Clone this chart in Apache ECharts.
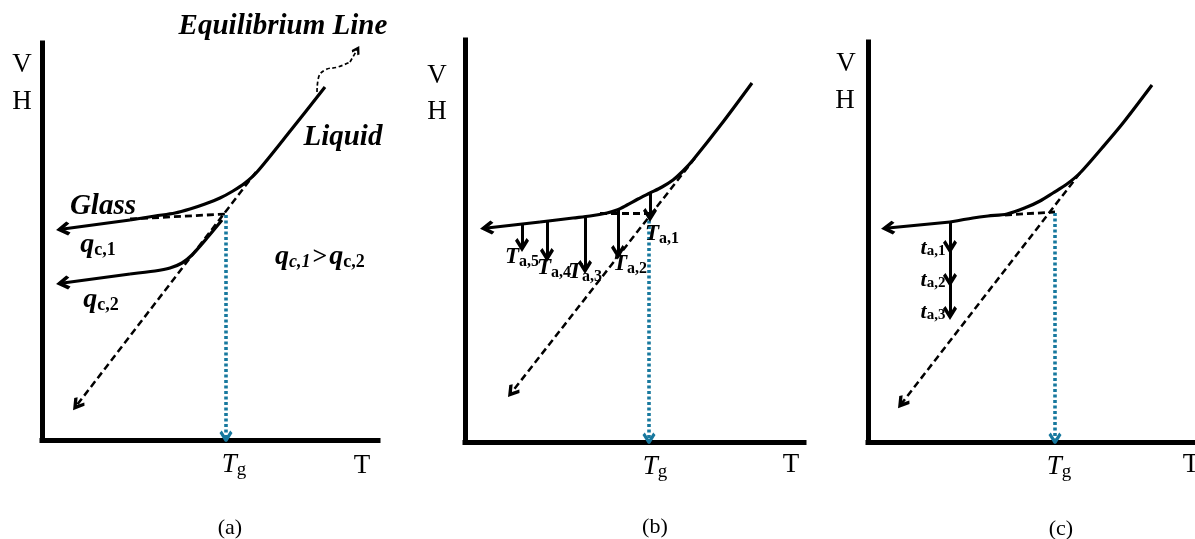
<!DOCTYPE html>
<html><head><meta charset="utf-8">
<script src="https://cdn.jsdelivr.net/npm/echarts@6/dist/echarts.min.js"></script>
<style>html,body{margin:0;padding:0;background:#fff}#c{width:1195px;height:539px}</style>
</head><body><div id="c"></div>
<script>
// ---- axis extents (T units, V/H units) for panels a, b, c ----
const xMax = [336, 339, 327];
const yMax = [397, 402, 400];

// ---- Panel (a): two cooling rates ----
const aCurve1 = [[283,353],[249,310],[215,268],[203,257],[191,249],[178,242],[163,236],[148,231],[133,227],[113,224],[88,220]];
const aGlass1 = [[88,220],[21,211]];
const aCurve2 = [[180,220],[165,202],[150,185],[140,177],[128,172],[113,169],[88,166]];
const aGlass2 = [[88,166],[21,157]];
const aTangentH = [[88,221],[184,226]];
const aTangentD = [[214,268],[35,35]];
const aTg = [[184,225],[184,3]];
const aWavy = [[275,348],[276,360],[283,370],[296,373],[308,378]];
const aWavyTip = [[308,378],[315,390]];

// ---- Panel (b): annealing temperatures ----
const bCurve = [[287,359],[258,320],[228,282],[218,271],[208,262],[197,255],[185,249],[173,243],[162,237],[152,232],[142,229],[125,226],[108,224],[75,220]];
const bGlass = [[75,220],[22,214]];
const bTangentH = [[135,229],[185,229]];
const bTangentD = [[230,284],[47,50]];
const bTg = [[184,227],[184,3]];
const bAnnealX = [185,153,120,82,57];
const bAnnealTop = [249,232,225,221,218];
const bAnnealBottom = [227,190,175,187,197];

// ---- Panel (c): annealing times ----
const cCurve = [[284,357],[255,319],[234,294],[212,269],[199,258],[185,249],[172,241],[159,235],[139,228],[120,226],[105,224],[82,220]];
const cGlass = [[82,220],[20,214]];
const cTangentH = [[137,227],[187,230]];
const cTangentD = [[212,269],[34,39]];
const cTg = [[187,229],[187,3]];
const cAgeX = 82;
const cAgeSteps = [220,195,162,129];

// ---- text annotations [x, y, rich text] ----
const aLabels = [
  [-20,375,'{r|V}'],[-20,338,'{r|H}'],
  [241,413,'{bi|Equilibrium Line}'],[301,302,'{bi|Liquid}'],[61,233,'{bi|Glass}'],
  [56,195,'{q|q}{qs|c,1}'],[59,140,'{q|q}{qs|c,2}'],
  [278,183,'{q|q}{qsi|c,1}{gt|>}{q|q}{qs|c,2}'],
  [192,-25,'{ti|T}{s|g}'],[320,-26,'{r|T}'],[188,-88,'{cap|(a)}']
];
const bLabels = [
  [-28,366,'{r|V}'],[-28,330,'{r|H}'],
  [197,208,'{ta|T}{tas|a,1}'],[165,178,'{ta|T}{tas|a,2}'],[120,170,'{ta|T}{tas|a,3}'],
  [89,174,'{ta|T}{tas|a,4}'],[57,185,'{ta|T}{tas|a,5}'],
  [190,-25,'{ti|T}{s|g}'],[326,-23,'{r|T}'],[190,-85,'{cap|(b)}']
];
const cLabels = [
  [-22,378,'{r|V}'],[-23,341,'{r|H}'],
  [65,194,'{tt|t}{tts|a,1}'],[65,162,'{tt|t}{tts|a,2}'],[65,130,'{tt|t}{tts|a,3}'],
  [191,-25,'{ti|T}{s|g}'],[323,-23,'{r|T}'],[193,-87,'{cap|(c)}']
];

// ---- styling ----
const SERIF = '"Liberation Serif","Times New Roman",serif';
const BLUE = '#17789e';
const CHEV = 'path://M6,0L12,8L9.9,10L6,4.9L2.1,10L0,8Z';
const grids = [
  {left:42, top:43, width:336, height:397},
  {left:465, top:40, width:339, height:402},
  {left:868, top:42, width:327, height:400}
];
const K = '#000';
const rich = {
  r:{fontFamily:SERIF,fontSize:27,color:K,lineHeight:30},
  bi:{fontFamily:SERIF,fontSize:29,fontWeight:'bold',fontStyle:'italic',color:K,lineHeight:30},
  q:{fontFamily:SERIF,fontSize:28,fontWeight:'bold',fontStyle:'italic',color:K,lineHeight:28},
  qs:{fontFamily:SERIF,fontSize:18,fontWeight:'bold',color:K,lineHeight:16,verticalAlign:'bottom'},
  qsi:{fontFamily:SERIF,fontSize:18,fontWeight:'bold',fontStyle:'italic',color:K,lineHeight:16,verticalAlign:'bottom'},
  gt:{fontFamily:SERIF,fontSize:26,fontWeight:'bold',color:K,lineHeight:28,padding:[0,2,0,2]},
  ti:{fontFamily:SERIF,fontSize:27,fontStyle:'italic',color:K,lineHeight:30},
  s:{fontFamily:SERIF,fontSize:19,color:K,lineHeight:16,verticalAlign:'bottom'},
  ta:{fontFamily:SERIF,fontSize:23,fontStyle:'italic',fontWeight:'bold',color:K,lineHeight:26},
  tas:{fontFamily:SERIF,fontSize:16,fontWeight:'bold',color:K,lineHeight:14,verticalAlign:'bottom'},
  tt:{fontFamily:SERIF,fontSize:22,fontStyle:'italic',fontWeight:'bold',color:K,lineHeight:22},
  tts:{fontFamily:SERIF,fontSize:15,fontWeight:'bold',color:K,lineHeight:12,verticalAlign:'bottom'},
  cap:{fontFamily:SERIF,fontSize:22,color:K,lineHeight:24}
};

const axisStyle = {lineStyle:{color:K,width:5,cap:'square'}};
const xAxes = grids.map((g,i)=>({type:'value',gridIndex:i,min:0,max:xMax[i],axisLine:{show:true,onZero:false,...axisStyle},axisTick:{show:false},axisLabel:{show:false},splitLine:{show:false}}));
const yAxes = grids.map((g,i)=>({type:'value',gridIndex:i,min:0,max:yMax[i],axisLine:{show:true,onZero:false,...axisStyle},axisTick:{show:false},axisLabel:{show:false},splitLine:{show:false}}));

const series = [];
function curve(i, data, opts){
  series.push(Object.assign({type:'line',xAxisIndex:i,yAxisIndex:i,data:data,smooth:0.3,symbol:'none',showSymbol:false,silent:true,
    lineStyle:{color:K,width:3.2}}, opts||{}));
}
function seg(i, coordsList, color, width, type, arrow, size){
  series.push({type:'lines',coordinateSystem:'cartesian2d',xAxisIndex:i,yAxisIndex:i,silent:true,
    symbol:['none', arrow ? CHEV : 'none'],symbolSize:size || [19,14],
    lineStyle:{color:color,width:width,type:type,opacity:1,curveness:0},
    itemStyle:{color:color},
    data:coordsList.map(c=>({coords:c}))});
}
function labels(i, list){
  series.push({type:'scatter',xAxisIndex:i,yAxisIndex:i,silent:true,clip:false,symbolSize:0.1,
    itemStyle:{color:K,opacity:1},
    label:{show:true,position:[0,0],align:'center',verticalAlign:'middle',color:K,opacity:1,textBorderWidth:0,rich:rich,formatter:p=>p.data.t},
    data:list.map(l=>({value:[l[0],l[1]],t:l[2]}))});
}
const DASH = [7,4];
const DOT = [3,2.5];

// panel a
curve(0, aCurve1);
seg(0, [aGlass1], K, 3.2, 'solid', true);
curve(0, aCurve2);
seg(0, [aGlass2], K, 3.2, 'solid', true);
seg(0, [aTangentH], K, 2.8, DASH, false);
seg(0, [aTangentD], K, 2.5, DASH, true, [17,13]);
seg(0, [aTg], BLUE, 3.6, DOT, true, [18,13]);
curve(0, aWavy, {lineStyle:{color:K,width:1.7,type:[4,2.5]},smooth:0.5});
seg(0, [aWavyTip], K, 1.7, [4,2.5], true, [12,9]);
labels(0, aLabels);

// panel b
curve(1, bCurve);
seg(1, [bGlass], K, 3.2, 'solid', true);
seg(1, [bTangentH], K, 2.8, DASH, false);
seg(1, [bTangentD], K, 2.5, DASH, true, [17,13]);
seg(1, [bTg], BLUE, 3.6, DOT, true, [18,13]);
seg(1, bAnnealX.map((x,k)=>[[x,bAnnealTop[k]],[x,bAnnealBottom[k]]]), K, 3, 'solid', true, [19,14]);
labels(1, bLabels);

// panel c
curve(2, cCurve);
seg(2, [cGlass], K, 3.2, 'solid', true);
seg(2, [cTangentH], K, 2.8, DASH, false);
seg(2, [cTangentD], K, 2.5, DASH, true, [17,13]);
seg(2, [cTg], BLUE, 3.6, DOT, true, [18,13]);
seg(2, cAgeSteps.slice(1).map((y,k)=>[[cAgeX,cAgeSteps[k]],[cAgeX,y]]), K, 3, 'solid', true, [19,14]);
labels(2, cLabels);

const chart = echarts.init(document.getElementById('c'), null, {renderer:'canvas'});
chart.setOption({
  animation:false,
  backgroundColor:'#fff',
  grid:grids,
  xAxis:xAxes,
  yAxis:yAxes,
  series:series
});
</script></body></html>
